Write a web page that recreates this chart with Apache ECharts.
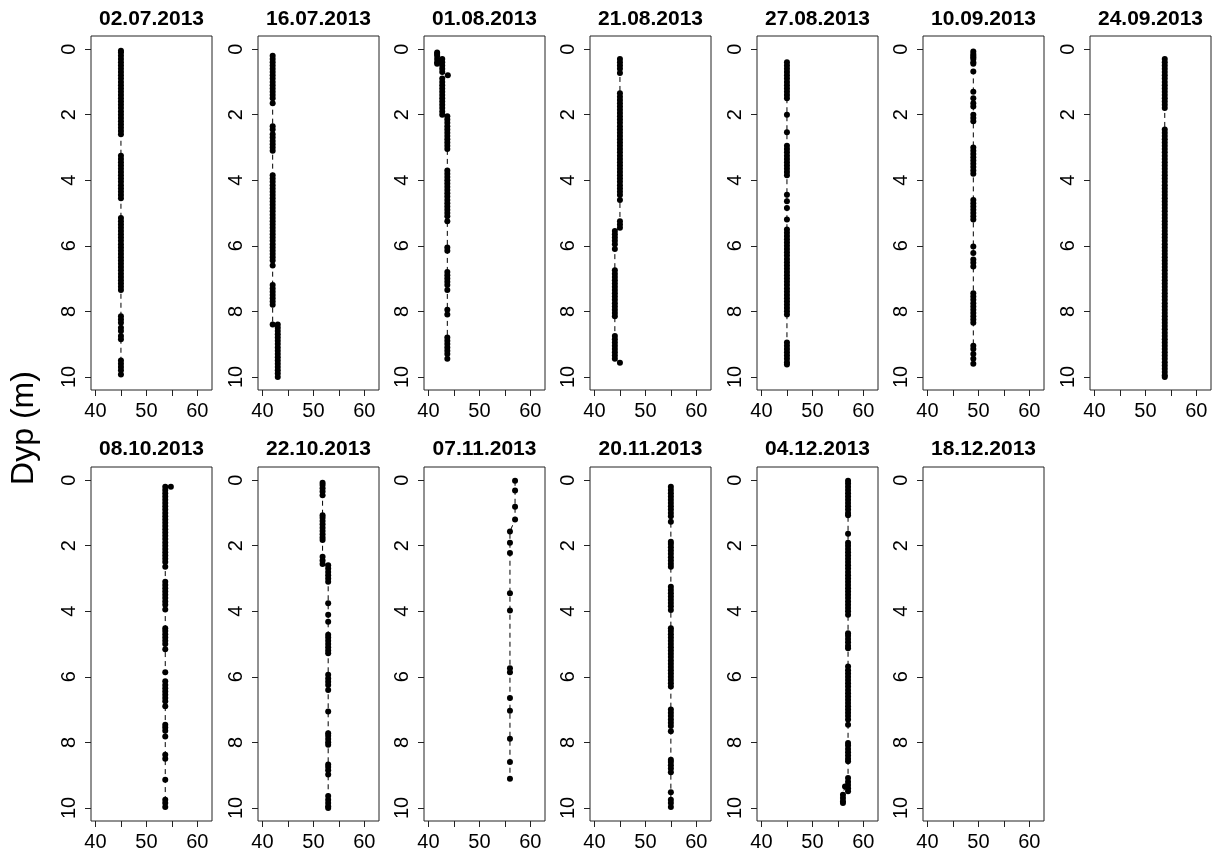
<!DOCTYPE html>
<html><head><meta charset="utf-8">
<script src="https://cdn.jsdelivr.net/npm/echarts@6/dist/echarts.min.js"></script>
<style>html,body{margin:0;padding:0;background:#fff}#c{width:1215px;height:859px}</style>
</head><body><div id="c"></div>
<script>
// Panel titles (dates)
const titles = ['02.07.2013','16.07.2013','01.08.2013','21.08.2013','27.08.2013','10.09.2013','24.09.2013',
                '08.10.2013','22.10.2013','07.11.2013','20.11.2013','04.12.2013','18.12.2013'];
const xTicks = [40,45,50,55,60];
const xLabels = [40,50,60];
const yTicks = [0,2,4,6,8,10];
const yTitle = 'Dyp (m)';

// Each panel: runs of [x value, [depths...]]
const p0207 = [[45,[0.05,0.1,0.2,0.3,0.4,0.5,0.6,0.7,0.8,0.9,1.0,1.1,1.2,1.3,1.4,1.5,1.6,1.7,1.8,1.9,2.0,2.1,2.2,2.3,2.4,2.5,2.6,
  3.25,3.35,3.45,3.55,3.65,3.75,3.85,3.95,4.05,4.15,4.25,4.35,4.45,4.55,
  5.15,5.25,5.35,5.45,5.55,5.65,5.75,5.85,5.95,6.05,6.15,6.25,6.35,6.45,6.55,6.65,6.75,6.85,6.95,7.05,7.15,7.25,7.35,
  8.15,8.25,8.35,8.5,8.6,8.75,8.85,
  9.5,9.6,9.7,9.8,9.93]]];
const p1607 = [[42,[0.2,0.3,0.4,0.5,0.6,0.7,0.8,0.9,1.0,1.1,1.2,1.3,1.4,1.5,1.65,
  2.35,2.45,2.6,2.7,2.8,2.9,3.0,3.1,
  3.85,3.95,4.05,4.15,4.25,4.35,4.45,4.55,4.65,4.75,4.85,4.95,5.05,5.15,5.25,5.35,5.45,5.55,5.65,5.75,5.85,5.95,6.05,6.15,6.25,6.35,6.45,6.6,
  7.2,7.3,7.4,7.5,7.6,7.7,7.8,
  8.4]],
  [43,[8.4,8.5,8.6,8.7,8.8,8.9,9.0,9.1,9.2,9.3,9.4,9.5,9.6,9.7,9.8,9.9,10.0]]];
const p0108 = [[41.7,[0.1,0.15,0.2,0.3,0.4,0.45]],
  [42.7,[0.3,0.4,0.5,0.6,0.7]],
  [43.8,[0.8]],
  [42.7,[0.9,1.0,1.1,1.2,1.3,1.4,1.5,1.6,1.7,1.8,1.9,2.0]],
  [43.7,[2.05,2.15,2.25,2.35,2.45,2.55,2.65,2.75,2.85,2.95,3.05,
   3.7,3.8,3.9,4.0,4.1,4.2,4.3,4.4,4.5,4.6,4.7,4.8,4.9,5.0,5.1,5.25,
   6.05,6.15,
   6.8,6.9,7.0,7.1,7.2,7.35,
   7.95,8.1,
   8.8,8.9,9.0,9.1,9.2,9.3,9.45]]];
const p2108 = [[45,[0.3,0.4,0.5,0.6,0.73,
  1.35,1.45,1.55,1.65,1.75,1.85,1.95,2.05,2.15,2.25,2.35,2.45,2.55,2.65,2.75,2.85,2.95,3.05,3.15,3.25,3.35,3.45,3.55,3.65,3.75,3.85,3.95,4.05,4.15,4.25,4.35,4.45,4.6,
  5.25,5.35,5.45]],
  [44,[5.55,5.65,5.75,5.85,5.95,6.1,
  6.75,6.85,6.95,7.05,7.15,7.25,7.35,7.45,7.55,7.65,7.75,7.85,7.95,8.05,8.15,
  8.75,8.85,8.95,9.05,9.15,9.25,9.35,9.45]],
  [45,[9.57]]];
const p2708 = [[45,[0.4,0.5,0.6,0.7,0.8,0.9,1.0,1.1,1.2,1.3,1.4,1.5,
  2.0,2.54,
  2.95,3.05,3.15,3.25,3.35,3.45,3.55,3.65,3.75,3.85,
  4.44,4.64,4.85,5.2,
  5.5,5.6,5.7,5.8,5.9,6.0,6.1,6.2,6.3,6.4,6.5,6.6,6.7,6.8,6.9,7.0,7.1,7.2,7.3,7.4,7.5,7.6,7.7,7.8,7.9,8.0,8.1,
  8.95,9.05,9.15,9.25,9.35,9.45,9.55,9.62]]];
const p1009 = [[49,[0.07,0.15,0.2,0.25,0.3,0.4,0.45,0.68,
  1.3,1.5,1.65,1.75,2.0,2.1,2.2,
  3.0,3.1,3.2,3.3,3.4,3.5,3.6,3.7,3.8,
  4.6,4.7,4.8,4.9,5.0,5.1,5.2,
  6.02,6.22,6.42,6.52,6.63,
  7.45,7.55,7.65,7.75,7.85,7.95,8.05,8.15,8.25,8.35,
  9.05,9.15,9.3,9.45,9.6]]];
const p2409 = [[53.8,[0.3,0.4,0.5,0.6,0.7,0.8,0.9,1.0,1.1,1.2,1.3,1.4,1.5,1.6,1.7,1.8,
  2.45,2.55,2.65,2.75,2.85,2.95,3.05,3.15,3.25,3.35,3.45,3.55,3.65,3.75,3.85,3.95,4.05,4.15,4.25,4.35,4.45,4.55,4.65,4.75,4.85,4.95,
  5.05,5.15,5.25,5.35,5.45,5.55,5.65,5.75,5.85,5.95,6.05,6.15,6.25,6.35,6.45,6.55,6.65,6.75,6.85,6.95,7.05,7.15,7.25,7.35,7.45,
  7.55,7.65,7.75,7.85,7.95,8.05,8.15,8.25,8.35,8.45,8.55,8.65,8.75,8.85,8.95,9.05,9.15,9.25,9.35,9.45,9.55,9.65,9.75,9.85,9.95,10.0]]];
const p0810 = [[54.8,[0.2]],
  [53.7,[0.2,0.3,0.4,0.5,0.6,0.7,0.8,0.9,1.0,1.1,1.2,1.3,1.4,1.5,1.6,1.7,1.8,1.9,2.0,2.1,2.2,2.3,2.4,2.5,2.64,
  3.1,3.2,3.3,3.4,3.5,3.6,3.7,3.8,3.95,
  4.52,4.6,4.7,4.8,4.9,5.0,5.16,
  5.86,
  6.14,6.25,6.35,6.45,6.55,6.65,6.75,6.9,
  7.46,7.55,7.65,7.82,
  8.38,8.5,
  9.14,
  9.75,9.85,9.97]]];
const p2210 = [[51.8,[0.08,0.15,0.25,0.35,0.46,1.07,1.15,1.25,1.35,1.45,1.55,1.65,1.75,1.83,2.34,2.45,2.56]],
  [52.9,[2.6,2.7,2.8,2.9,3.0,3.1,3.76,4.11,4.32,4.72,4.8,4.9,5.0,5.1,5.2,5.28,5.94,6.05,6.15,6.25,6.4,7.06,
  7.72,7.8,7.9,8.0,8.07,8.68,8.75,8.85,8.98,9.64,9.75,9.85,9.95,10.0]]];
const p0711 = [[57,[0.02,0.32,0.81,1.2]],
  [56,[1.57,1.91,2.22,3.45,3.98,5.74,5.86,6.65,7.04,7.89,8.6,9.11]]];
const p2011 = [[55,[0.2,0.3,0.4,0.5,0.6,0.7,0.8,0.9,1.0,1.1,1.27,
  1.88,1.95,2.05,2.15,2.25,2.35,2.45,2.55,2.64,
  3.25,3.35,3.45,3.55,3.65,3.75,3.85,3.96,
  4.52,4.6,4.7,4.8,4.9,5.0,5.1,5.2,5.3,5.4,5.5,5.6,5.7,5.8,5.9,6.0,6.1,6.2,6.3,
  7.0,7.1,7.2,7.3,7.4,7.5,7.66,
  8.53,8.6,8.7,8.8,8.91,
  9.52,
  9.75,9.85,9.97]]];
const p0412 = [[57,[0.02,0.1,0.2,0.3,0.4,0.5,0.6,0.7,0.8,0.9,1.0,1.07,
  1.64,
  1.91,2.0,2.1,2.2,2.3,2.4,2.5,2.6,2.7,2.8,2.9,3.0,3.1,3.2,3.3,3.4,3.5,3.6,3.7,3.8,3.9,4.0,4.11,
  4.67,4.75,4.85,4.95,5.05,5.13,
  5.69,5.8,5.9,6.0,6.1,6.2,6.3,6.4,6.5,6.6,6.7,6.8,6.9,7.0,7.1,7.2,7.3,7.46,
  8.02,8.1,8.2,8.3,8.4,8.5,8.58,
  9.09,9.2,9.3,9.4,9.49]],
  [56.4,[9.35]],
  [56,[9.6,9.7,9.8,9.85]]];
const p1812 = [];

const panelData = [p0207,p1607,p0108,p2108,p2708,p1009,p2409,p0810,p2210,p0711,p2011,p0412,p1812];

// Layout
const colLefts = [91,258,424,590,757,923,1090];
const rowTops = [36,467];
const boxW = 121, boxH = 354;
const titleY = [19,449];
const FONT = "'Liberation Sans', Arial, Helvetica, sans-serif";

const grid = [], xAxis = [], yAxis = [], series = [], graphic = [];
titles.forEach((t, i) => {
  const row = Math.floor(i / 7), col = i % 7;
  const left = colLefts[col], top = rowTops[row];
  grid.push({left: left, top: top, width: boxW, height: boxH, show: true,
    borderColor: '#222', borderWidth: 1, backgroundColor: 'transparent'});
  xAxis.push({type: 'value', gridIndex: i, min: 39.12, max: 62.88, position: 'bottom',
    axisLine: {show: false, onZero: false}, splitLine: {show: false},
    axisTick: {show: true, customValues: xTicks, length: 6, lineStyle: {color: '#222', width: 1}},
    axisLabel: {show: true, customValues: xLabels, fontSize: 20, margin: 11, color: '#000', fontFamily: FONT}});
  yAxis.push({type: 'value', gridIndex: i, min: -0.4, max: 10.4, inverse: true, position: 'left',
    axisLine: {show: false, onZero: false}, splitLine: {show: false},
    axisTick: {show: true, customValues: yTicks, length: 6, lineStyle: {color: '#222', width: 1}},
    axisLabel: {show: true, customValues: yTicks, rotate: 90, fontSize: 20, margin: 12, color: '#000', fontFamily: FONT}});
  const pts = [];
  panelData[i].forEach(run => run[1].forEach(d => pts.push([run[0], d])));
  series.push({type: 'line', xAxisIndex: i, yAxisIndex: i, data: pts,
    symbol: 'circle', symbolSize: 6, showSymbol: true, showAllSymbol: true,
    lineStyle: {color: '#000', width: 1, type: [5, 4]},
    itemStyle: {color: '#000', borderWidth: 0},
    silent: true, animation: false});
  graphic.push({type: 'text', x: left + boxW / 2, y: titleY[row],
    style: {text: t, align: 'center', verticalAlign: 'middle', fill: '#000',
      font: 'bold 21px ' + FONT}});
});
graphic.push({type: 'text', x: 24, y: 428, rotation: Math.PI / 2,
  style: {text: yTitle, align: 'center', verticalAlign: 'middle', fill: '#000', font: '32px ' + FONT}});

const chart = echarts.init(document.getElementById('c'), null, {renderer: 'canvas'});
chart.setOption({backgroundColor: '#fff', animation: false, grid, xAxis, yAxis, series, graphic});
</script>
</body></html>
